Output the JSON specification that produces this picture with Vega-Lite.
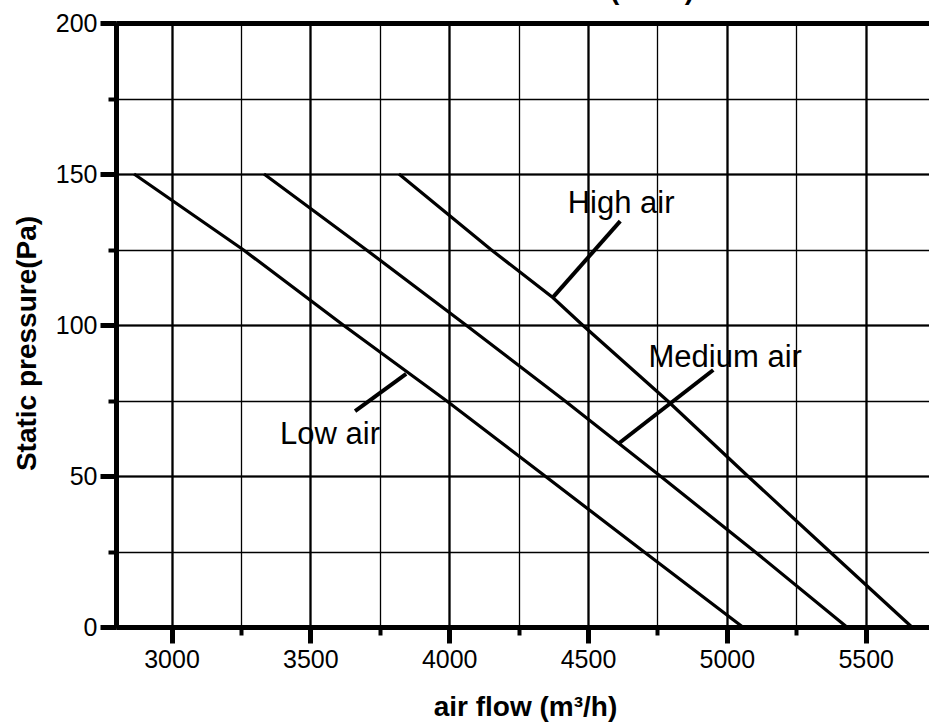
{
  "$schema": "https://vega.github.io/schema/vega-lite/v6.json",
  "autosize": "none",
  "width": 813,
  "height": 604,
  "padding": {"left": 116, "top": 23, "right": 0, "bottom": 98},
  "background": "white",
  "config": {"view": {"stroke": null}, "font": "Liberation Sans"},
  "title": {"text": "(50Pa)", "anchor": "start", "frame": "group", "dx": 494, "dy": 24, "offset": 8, "baseline": "alphabetic", "fontSize": 28, "fontWeight": "bold", "font": "Liberation Sans", "color": "black"},
  "datasets": {
    "curves": [
      {"speed": "Low air", "flow": 2865, "pressure": 150},
      {"speed": "Low air", "flow": 3257, "pressure": 125},
      {"speed": "Low air", "flow": 3618, "pressure": 100},
      {"speed": "Low air", "flow": 3989, "pressure": 75},
      {"speed": "Low air", "flow": 4345, "pressure": 50},
      {"speed": "Low air", "flow": 4700, "pressure": 25},
      {"speed": "Low air", "flow": 5057, "pressure": 0},
      {"speed": "Medium air", "flow": 3333, "pressure": 150},
      {"speed": "Medium air", "flow": 3700, "pressure": 125},
      {"speed": "Medium air", "flow": 4060, "pressure": 100},
      {"speed": "Medium air", "flow": 4415, "pressure": 75},
      {"speed": "Medium air", "flow": 4760, "pressure": 50},
      {"speed": "Medium air", "flow": 5100, "pressure": 25},
      {"speed": "Medium air", "flow": 5432, "pressure": 0},
      {"speed": "High air", "flow": 3819, "pressure": 150},
      {"speed": "High air", "flow": 4150, "pressure": 125},
      {"speed": "High air", "flow": 4374, "pressure": 109},
      {"speed": "High air", "flow": 4480, "pressure": 100},
      {"speed": "High air", "flow": 4785, "pressure": 75},
      {"speed": "High air", "flow": 5075, "pressure": 50},
      {"speed": "High air", "flow": 5370, "pressure": 25},
      {"speed": "High air", "flow": 5666, "pressure": 0}
    ],
    "labels": [
      {"label": "High air", "flow": 4619, "pressure": 137.1},
      {"label": "Medium air", "flow": 4994, "pressure": 86.1},
      {"label": "Low air", "flow": 3571, "pressure": 60.6}
    ],
    "arrows": [
      {"flow": 4616, "pressure": 134.4, "flow2": 4371, "pressure2": 108.9},
      {"flow": 4951, "pressure": 85.1, "flow2": 4608, "pressure2": 60.6},
      {"flow": 3661, "pressure": 71.5, "flow2": 3845, "pressure2": 83.8}
    ]
  },
  "layer": [
    {
      "data": {"name": "curves"},
      "mark": {"type": "line", "color": "black", "strokeWidth": 3.2},
      "encoding": {
        "x": {"field": "flow", "type": "quantitative", "scale": {"domain": [2800, 5728], "nice": false, "zero": false},
          "axis": {"orient": "bottom", "values": [3000, 3250, 3500, 3750, 4000, 4250, 4500, 4750, 5000, 5250, 5500], "grid": true, "gridColor": "black", "gridWidth": 1.3, "ticks": true, "tickSize": 8, "tickWidth": 4, "tickColor": "black", "labels": false, "domain": true, "domainColor": "black", "domainWidth": 5, "title": null}},
        "y": {"field": "pressure", "type": "quantitative", "scale": {"domain": [0, 200], "nice": false},
          "axis": {"orient": "left", "values": [0, 25, 50, 75, 100, 125, 150, 175, 200], "grid": true, "gridColor": "black", "gridWidth": 1.3, "ticks": true, "tickSize": 8, "tickWidth": 4, "tickColor": "black", "labels": false, "domain": true, "domainColor": "black", "domainWidth": 5, "title": null}},
        "detail": {"field": "speed"}
      }
    },
    {
      "data": {"name": "arrows"},
      "mark": {"type": "rule", "color": "black", "strokeWidth": 4},
      "encoding": {
        "x": {"field": "flow", "type": "quantitative",
          "axis": {"orient": "bottom", "values": [3000, 3500, 4000, 4500, 5000, 5500], "format": "d", "grid": true, "gridColor": "black", "gridWidth": 2.2, "ticks": true, "tickSize": 16, "tickWidth": 5, "tickColor": "black", "labels": true, "labelFontSize": 25, "labelColor": "black", "labelPadding": 4, "labelFont": "Liberation Sans", "domain": false, "title": "air flow (m³/h)", "titleFontSize": 28, "titleFontWeight": "bold", "titleColor": "black", "titleFont": "Liberation Sans", "titleX": 409, "titleY": 88, "titleAlign": "center", "titleBaseline": "alphabetic"}},
        "y": {"field": "pressure", "type": "quantitative",
          "axis": {"orient": "left", "values": [0, 50, 100, 150, 200], "format": "d", "grid": true, "gridColor": "black", "gridWidth": 2.2, "ticks": true, "tickSize": 16, "tickWidth": 5, "tickColor": "black", "labels": true, "labelFontSize": 25, "labelColor": "black", "labelPadding": 3, "labelFont": "Liberation Sans", "domain": false, "title": "Static pressure(Pa)", "titleFontSize": 28, "titleFontWeight": "bold", "titleColor": "black", "titleFont": "Liberation Sans", "titleX": -89, "titleY": 320, "titleAngle": -90, "titleAlign": "center", "titleBaseline": "middle"}},
        "x2": {"field": "flow2"},
        "y2": {"field": "pressure2"}
      }
    },
    {
      "data": {"name": "labels"},
      "mark": {"type": "text", "color": "black", "fontSize": 31, "font": "Liberation Sans", "align": "center", "baseline": "alphabetic"},
      "encoding": {
        "x": {"field": "flow", "type": "quantitative",
          "axis": {"orient": "top", "domain": true, "domainColor": "black", "domainWidth": 5, "ticks": false, "labels": false, "grid": false, "title": null}},
        "y": {"field": "pressure", "type": "quantitative", "axis": null},
        "text": {"field": "label"}
      }
    }
  ],
  "resolve": {"axis": {"x": "independent", "y": "independent"}}
}
